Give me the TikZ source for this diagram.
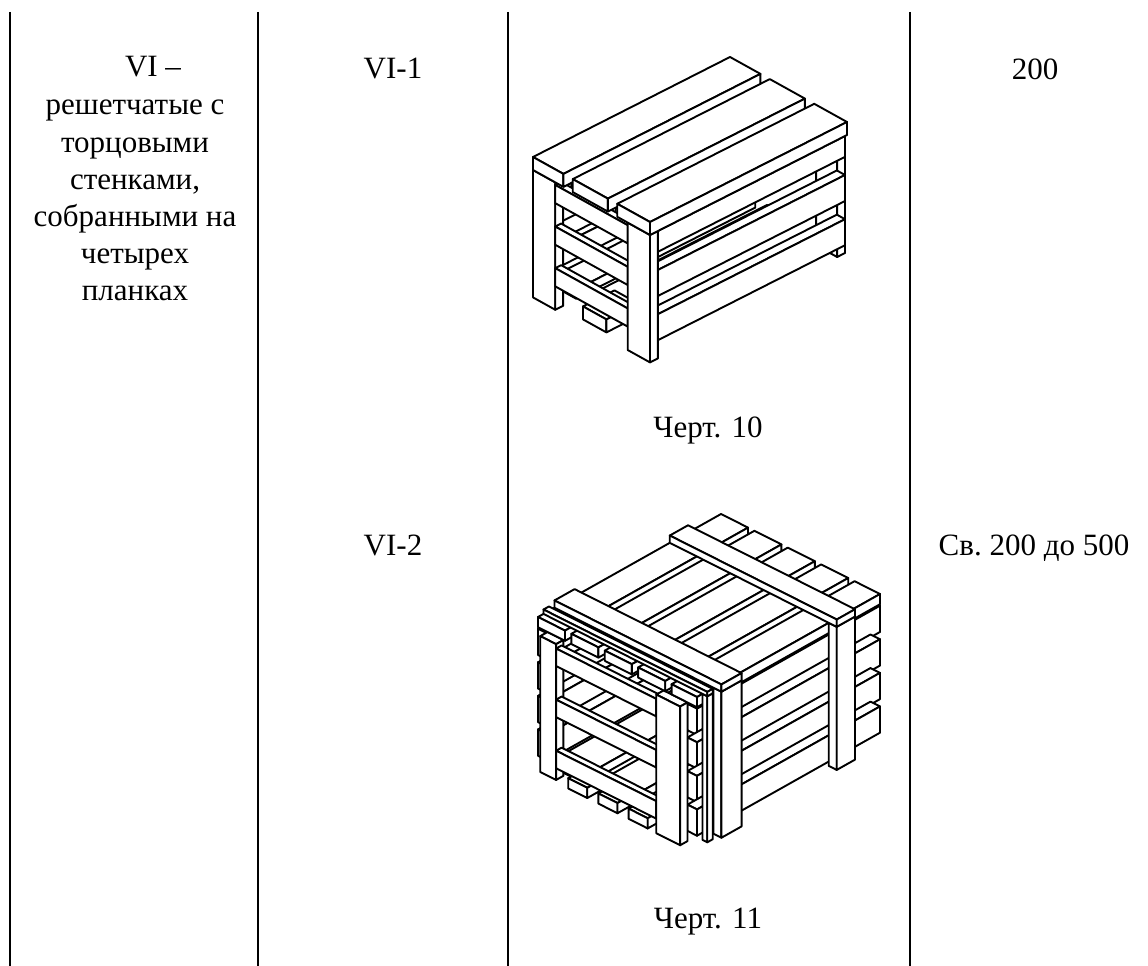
\documentclass[tikz,border=0pt]{standalone}
\usepackage{fontspec}
\setmainfont{Liberation Serif}
\begin{document}
\begin{tikzpicture}[x=1pt,y=-1pt,
  cr/.style={fill=white,draw=black,line width=1.9pt,line join=round},
  rule/.style={draw=black,line width=1.2pt},
  txt/.style={anchor=base,inner sep=0pt,font=\fontsize{31}{37}\selectfont}]
\newcommand{\cbx}[6]{%
  \filldraw[cr] (#1,#3,#5) -- (#2,#3,#5) -- (#2,#4,#5) -- (#1,#4,#5) -- cycle;
  \filldraw[cr] (#1,#3,#5) -- (#2,#3,#5) -- (#2,#3,#6) -- (#1,#3,#6) -- cycle;
  \filldraw[cr] (#2,#3,#5) -- (#2,#4,#5) -- (#2,#4,#6) -- (#2,#3,#6) -- cycle;}
\useasboundingbox (0,0) rectangle (1148,966);
\fill[white] (0,0) rectangle (1148,966);
% table rules
\coordinate (r1t) at (10,12);  \coordinate (r1b) at (10,966);
\coordinate (r2t) at (258,12); \coordinate (r2b) at (258,966);
\coordinate (r3t) at (508,12); \coordinate (r3b) at (508,966);
\coordinate (r4t) at (910,12); \coordinate (r4b) at (910,966);
\draw[rule] (r1t) -- (r1b);
\draw[rule] (r2t) -- (r2b);
\draw[rule] (r3t) -- (r3b);
\draw[rule] (r4t) -- (r4b);
% texts
\node[txt] (t0) at (153,77) {VI –};
\node[txt] (t1) at (135,114) {решетчатые с};
\node[txt] (t2) at (135,152) {торцовыми};
\node[txt] (t3) at (135,189) {стенками,};
\node[txt] (t4) at (135,226) {собранными на};
\node[txt] (t5) at (135,263) {четырех};
\node[txt] (t6) at (135,300) {планках};
\node[txt] (v1) at (393,78) {VI-1};
\node[txt] (v2) at (393,555) {VI-2};
\node[txt] (n1) at (1035,79) {200};
\node[txt] (n2) at (1034,555) {Св.\ 200 до 500};
\node[txt] (c1) at (708,437) {Черт. 10};
\node[txt] (c2) at (708,928) {Черт. 11};
% crate 1
\begin{scope}[shift={(533pt,-157pt)},x={(117pt,-65pt)},y={(197pt,100pt)},z={(0pt,-130pt)}]
\cbx{0.82}{1}{0.95}{0.99}{0.1}{1.0}
\cbx{0}{0.82}{0.95}{0.99}{0.1}{0.22}
\cbx{0}{0.05}{0.04}{0.95}{0.12}{0.26}
\cbx{0}{0.05}{0.04}{0.95}{0.42}{0.56}
\cbx{0}{0.05}{0.04}{0.95}{0.74}{0.9}
\cbx{0.1}{0.3}{0.04}{0.95}{0.9}{0.97}
\cbx{0.4}{0.6}{0.04}{0.95}{0.9}{0.97}
\cbx{0.93}{1}{0.04}{0.99}{0.1}{0.26}
\cbx{0.93}{1}{0.04}{0.99}{0.4}{0.6}
\cbx{0.93}{1}{0.04}{0.99}{0.74}{0.94}
\cbx{0.26}{0.34}{0.04}{0.95}{0.1}{0.14}
\cbx{0.64}{0.72}{0.04}{0.95}{0.1}{0.14}
\cbx{-0.05}{0}{0.04}{0.1}{0.12}{0.26}
\cbx{-0.05}{0}{0.04}{0.1}{0.42}{0.56}
\cbx{-0.05}{0}{0.04}{0.1}{0.74}{0.9}
\cbx{0.36}{0.56}{0.04}{0.2}{1.0}{1.1}
\cbx{0}{0.19}{0}{0.04}{0.1}{1.08}
\cbx{0.19}{0.81}{0}{0.03}{0.12}{0.26}
\cbx{0.19}{0.81}{0}{0.03}{0.44}{0.58}
\cbx{0.19}{0.81}{0}{0.03}{0.76}{0.9}
\cbx{0.81}{1}{0}{0.04}{0.1}{1.08}
\cbx{0}{0.26}{0}{1}{0}{0.1}
\cbx{0.34}{0.64}{0}{1}{0}{0.1}
\cbx{0.72}{1}{0}{1}{0}{0.1}
\end{scope}
% crate 2
\begin{scope}[shift={(538pt,-617pt)},x={(159pt,-80pt)},y={(183pt,103pt)},z={(0pt,-146pt)}]
\cbx{0}{0.06}{0}{1}{0.08}{0.26}
\cbx{0}{0.06}{0}{1}{0.31}{0.49}
\cbx{0}{0.06}{0}{1}{0.54}{0.72}
\cbx{0}{0.06}{0}{1}{0.77}{0.95}
\cbx{0.1}{0.3}{0}{1}{0.92}{0.98}
\cbx{0.38}{0.58}{0}{1}{0.92}{0.98}
\cbx{0.94}{1}{0}{1}{0.08}{0.26}
\cbx{0.94}{1}{0}{1}{0.31}{0.49}
\cbx{0.94}{1}{0}{1}{0.54}{0.72}
\cbx{0.94}{1}{0}{1}{0.77}{0.95}
\cbx{0.19}{0.31}{0}{0.1}{1.0}{1.07}
\cbx{0.38}{0.5}{0}{0.1}{1.0}{1.07}
\cbx{0.57}{0.69}{0}{0.1}{1.0}{1.07}
\cbx{0.06}{0.16}{-0.04}{0}{0.07}{1.0}
\cbx{0.16}{0.79}{-0.04}{-0.01}{0.1}{0.22}
\cbx{0.16}{0.79}{-0.04}{-0.01}{0.45}{0.57}
\cbx{0.16}{0.79}{-0.04}{-0.01}{0.8}{0.92}
\cbx{0.79}{0.94}{-0.04}{0}{0.07}{1.02}
\cbx{0}{0.17}{0}{1}{0}{0.07}
\cbx{0.21}{0.38}{0}{1}{0}{0.07}
\cbx{0.42}{0.59}{0}{1}{0}{0.07}
\cbx{0.63}{0.8}{0}{1}{0}{0.07}
\cbx{0.84}{1}{0}{1}{0}{0.07}
\cbx{1}{1.03}{0.03}{0.06}{0}{1.0}
\cbx{0}{1.03}{0.03}{0.06}{-0.03}{0}
\cbx{1}{1.05}{0.09}{0.2}{0}{1.0}
\cbx{0}{1.05}{0.09}{0.2}{-0.05}{0}
\cbx{1}{1.05}{0.72}{0.82}{0}{0.98}
\cbx{0}{1.05}{0.72}{0.82}{-0.05}{0}
\end{scope}
\end{tikzpicture}
\end{document}
